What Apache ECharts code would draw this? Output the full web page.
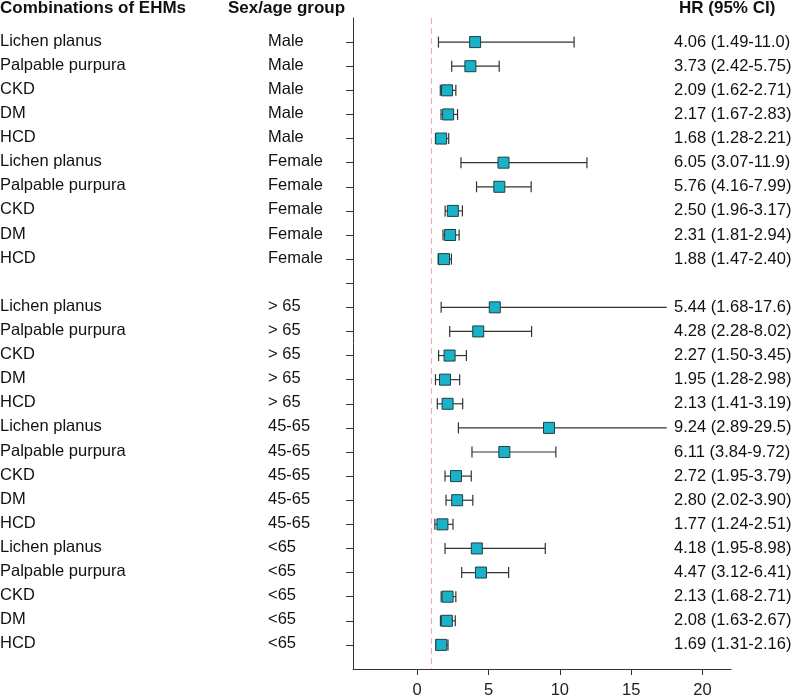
<!DOCTYPE html>
<html>
<head>
<meta charset="utf-8">
<script src="https://cdn.jsdelivr.net/npm/echarts@6/dist/echarts.min.js"></script>
<style>
html,body{margin:0;padding:0;background:#fff;}
#c{width:800px;height:696px;}
</style>
</head>
<body>
<div id="c"></div>
<script>
// ---- data ----
const combos = ["Lichen planus","Palpable purpura","CKD","DM","HCD",
  "Lichen planus","Palpable purpura","CKD","DM","HCD",
  "",
  "Lichen planus","Palpable purpura","CKD","DM","HCD",
  "Lichen planus","Palpable purpura","CKD","DM","HCD",
  "Lichen planus","Palpable purpura","CKD","DM","HCD"];
const groups = ["Male","Male","Male","Male","Male",
  "Female","Female","Female","Female","Female",
  "",
  "> 65","> 65","> 65","> 65","> 65",
  "45-65","45-65","45-65","45-65","45-65",
  "<65","<65","<65","<65","<65"];
const hr = [4.06,3.73,2.09,2.17,1.68, 6.05,5.76,2.50,2.31,1.88, null,
  5.44,4.28,2.27,1.95,2.13, 9.24,6.11,2.72,2.80,1.77, 4.18,4.47,2.13,2.08,1.69];
const lower = [1.49,2.42,1.62,1.67,1.28, 3.07,4.16,1.96,1.81,1.47, null,
  1.68,2.28,1.50,1.28,1.41, 2.89,3.84,1.95,2.02,1.24, 1.95,3.12,1.68,1.63,1.31];
const upper = ["11.0","5.75","2.71","2.83","2.21", "11.9","7.99","3.17","2.94","2.40", null,
  "17.6","8.02","3.45","2.98","3.19", "29.5","9.72","3.79","3.90","2.51", "8.98","6.41","2.71","2.67","2.16"];
const xTicks = [0,5,10,15,20];
const refLine = 1;
const clipMax = 17.5;

// ---- build ----
const fmt2 = v => v.toFixed(2);
const hrText = hr.map((v,i) => v == null ? "" : fmt2(v) + " (" + fmt2(lower[i]) + "-" + upper[i] + ")");
const ciData = [];
hr.forEach((v,i) => { if (v != null) ciData.push([v, lower[i], parseFloat(upper[i]), i]); });
const textData = combos.map((c,i) => [0, i]);
const rowTicks = combos.map((c,i) => i);
const yMin = -1, yMax = combos.length;

const FONT = "'Liberation Sans', Arial, sans-serif";
const chart = echarts.init(document.getElementById('c'), null, {renderer:'canvas'});
chart.setOption({
  animation:false,
  backgroundColor:'#fff',
  grid:{left:353, right:69, top:18, bottom:27, containLabel:false, outerBoundsMode:'none'},
  xAxis:{type:'value', min:-4.5, max:22,
    axisLine:{show:true, onZero:false, lineStyle:{color:'#333', width:1}},
    axisTick:{show:true, customValues:xTicks, length:6, lineStyle:{color:'#333'}},
    axisLabel:{show:true, customValues:xTicks, margin:13, color:'#222', fontSize:16.5, fontFamily:FONT},
    splitLine:{show:false}},
  yAxis:{type:'value', inverse:true, min:yMin, max:yMax,
    axisLine:{show:true, onZero:false, lineStyle:{color:'#333', width:1}},
    axisTick:{show:true, customValues:rowTicks, length:7, lineStyle:{color:'#333'}},
    axisLabel:{show:false},
    splitLine:{show:false}},
  graphic:[
    {type:'text', left:0, top:0, style:{text:'Combinations of EHMs', font:'bold 17px '+FONT, fill:'#111'}},
    {type:'text', left:228, top:0, style:{text:'Sex/age group', font:'bold 17px '+FONT, fill:'#111'}},
    {type:'text', left:679, top:0, style:{text:'HR (95% CI)', font:'bold 17px '+FONT, fill:'#111'}}
  ],
  series:[
    {type:'line', data:[[refLine, yMin],[refLine, yMax]], silent:true, symbol:'none',
      lineStyle:{color:'#f2a5b5', type:[6,4], width:1}},
    {type:'custom', data:ciData, clip:false,
      renderItem:function(params, api){
        const v = api.value(0), lo = api.value(1), hi = api.value(2), r = api.value(3);
        const hiC = Math.min(hi, clipMax);
        const p0 = api.coord([lo, r]), p1 = api.coord([hiC, r]), pc = api.coord([v, r]);
        const cap = 5.5, s = 11;
        const st = {stroke:'#333', lineWidth:1.2};
        const children = [
          {type:'line', shape:{x1:p0[0], y1:p0[1], x2:p1[0], y2:p1[1]}, style:st},
          {type:'line', shape:{x1:p0[0], y1:p0[1]-cap, x2:p0[0], y2:p0[1]+cap}, style:st}
        ];
        if (hi <= clipMax) children.push({type:'line', shape:{x1:p1[0], y1:p1[1]-cap, x2:p1[0], y2:p1[1]+cap}, style:st});
        children.push({type:'rect', shape:{x:pc[0]-s/2, y:pc[1]-s/2, width:s, height:s},
          style:{fill:'#19b3c8', stroke:'#1d3f45', lineWidth:1}});
        return {type:'group', children:children};
      }},
    {type:'custom', data:textData, clip:false, silent:true,
      renderItem:function(params, api){
        const r = api.value(1);
        const y = api.coord([0, r])[1];
        const f = '16.5px ' + FONT;
        return {type:'group', children:[
          {type:'text', style:{x:0, y:y-1, text:combos[r], font:f, fill:'#111', verticalAlign:'middle', align:'left'}},
          {type:'text', style:{x:268, y:y-1, text:groups[r], font:f, fill:'#111', verticalAlign:'middle', align:'left'}},
          {type:'text', style:{x:674, y:y, text:hrText[r], font:f, fill:'#111', verticalAlign:'middle', align:'left'}}
        ]};
      }}
  ]
});
</script>
</body>
</html>
